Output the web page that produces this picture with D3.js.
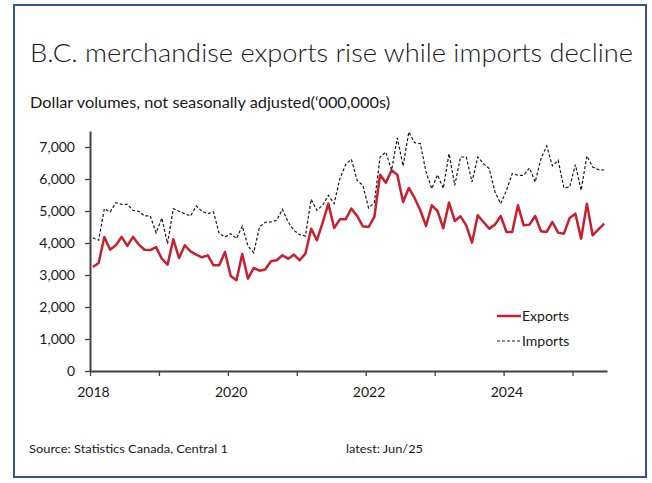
<!DOCTYPE html>
<html>
<head>
<meta charset="utf-8">
<script src="https://cdn.jsdelivr.net/npm/d3@7"></script>
<style>
    body { margin: 0; background: #fff; }
    text { font-family: Lato, "Open Sans", sans-serif; fill: #1a1a1a; }
</style>
</head>
<body>
<div id="chart"></div>
<script>

// monthly values, Jan 2018 - Jun 2025 ($ millions)
const exportsData = [
    3250, 3375, 4190, 3790, 3930, 4190, 3910, 4190, 3950, 3790, 3780, 3870,
    3510, 3320, 4115, 3532, 3930, 3740, 3635, 3553, 3615, 3303, 3303, 3720,
    2970, 2835, 3657, 2887, 3220, 3136, 3170, 3428, 3460, 3615, 3510, 3636,
    3460, 3667, 4448, 4085, 4636, 5230, 4470, 4740, 4740, 5074, 4845, 4522,
    4500, 4813, 6136, 5886, 6272, 6136, 5283, 5720, 5407, 5022, 4532, 5178,
    5000, 4460, 5262, 4688, 4834, 4553, 4011, 4865, 4657, 4449, 4574, 4845,
    4345, 4345, 5178, 4553, 4574, 4845, 4366, 4345, 4657, 4324, 4292, 4782,
    4917, 4136, 5230, 4240, 4428, 4605
];

const importsData = [
    4160, 4085, 5074, 4970, 5260, 5210, 5210, 5020, 4990, 4845, 4845, 4315,
    4780, 3980, 5074, 4990, 4917, 4845, 5157, 4990, 4917, 4970, 4292, 4190,
    4292, 4137, 4532, 3906, 3698, 4500, 4647, 4657, 4710, 5053, 4657, 4397,
    4262, 4220, 5366, 5022, 5178, 5490, 5230, 6011, 6449, 6615, 5959, 5803,
    5095, 5262, 6688, 6844, 6272, 7282, 6407, 7470, 7136, 7105, 6220, 5699,
    6130, 5710, 6792, 5803, 6688, 6688, 5907, 6688, 6480, 6323, 5595, 5230,
    5647, 6168, 6116, 6116, 6345, 5907, 6636, 7032, 6407, 6584, 5720, 5750,
    6449, 5647, 6720, 6376, 6293, 6282
];

const startYear = 2018;
const yearLabels = [2018, 2020, 2022, 2024];
const yTicks = [0, 1000, 2000, 3000, 4000, 5000, 6000, 7000];

const width = 652;
const height = 483;
const margin = { top: 131, left: 90, right: 45, bottom: 112 };

const svg = d3.select("#chart")
    .append("svg")
    .attr("width", width)
    .attr("height", height);

// frame
svg.append("rect")
    .attr("x", 14)
    .attr("y", 5)
    .attr("width", 632)
    .attr("height", 472)
    .attr("fill", "#fff")
    .attr("stroke", "#2F5597")
    .attr("stroke-width", 2);

/*
SCALES
*/
const n = exportsData.length;

const xScale = d3.scaleLinear()
    .domain([-0.5, n - 0.5])
    .range([margin.left, width - margin.right]);

const yScale = d3.scaleLinear()
    .domain([0, 7500])
    .range([height - margin.bottom, margin.top]);

/*
AXES
*/
// year boundaries (tick marks only)
const yearStarts = d3.range(0, n, 12).map(i => i - 0.5);

const xAxis = svg.append("g")
    .attr("class", "axis")
    .attr("transform", `translate(0,${height - margin.bottom})`)
    .call(d3.axisBottom(xScale)
        .tickValues(yearStarts)
        .tickFormat("")
        .tickSizeInner(5)
        .tickSizeOuter(0));

// labels centred on January of even years
const xLabels = svg.append("g")
    .attr("class", "axis labels")
    .attr("transform", `translate(0,${height - margin.bottom})`)
    .call(d3.axisBottom(xScale)
        .tickValues(yearLabels.map(y => (y - startYear) * 12))
        .tickFormat(i => startYear + i / 12)
        .tickSize(0)
        .tickPadding(16));
xLabels.select(".domain").remove();

const yAxis = svg.append("g")
    .attr("class", "axis")
    .attr("transform", `translate(${margin.left},0)`)
    .call(d3.axisLeft(yScale)
        .tickValues(yTicks)
        .tickFormat(d3.format(","))
        .tickSizeInner(5)
        .tickSizeOuter(0)
        .tickPadding(10));

svg.selectAll(".axis .domain, .axis line")
    .attr("stroke", "#404040");
svg.selectAll(".axis .domain").attr("stroke-width", 2);
svg.selectAll(".axis line").attr("stroke-width", 1.3);
svg.selectAll(".axis text")
    .style("font-size", "14px")
    .attr("fill", "#1a1a1a");

/*
LINES
*/
const line = d3.line()
    .x((d, i) => xScale(i))
    .y(d => yScale(d));

svg.append("path")
    .datum(importsData)
    .attr("d", line)
    .attr("fill", "none")
    .attr("stroke", "#1a1a1a")
    .attr("stroke-width", 1.2)
    .attr("stroke-dasharray", "3,2");

svg.append("path")
    .datum(exportsData)
    .attr("d", line)
    .attr("fill", "none")
    .attr("stroke", "#C8202F")
    .attr("stroke-width", 2.5)
    .attr("stroke-linejoin", "round");

/*
LEGEND
*/
const legend = svg.append("g").attr("transform", "translate(497,316)");
legend.append("line")
    .attr("x1", 0).attr("x2", 24).attr("y1", 0).attr("y2", 0)
    .attr("stroke", "#C8202F").attr("stroke-width", 2.5);
legend.append("text")
    .attr("x", 25).attr("y", 5)
    .style("font-size", "14px")
    .text("Exports");
legend.append("line")
    .attr("x1", 0).attr("x2", 24).attr("y1", 25).attr("y2", 25)
    .attr("stroke", "#1a1a1a").attr("stroke-width", 1.2)
    .attr("stroke-dasharray", "3,2");
legend.append("text")
    .attr("x", 25).attr("y", 30)
    .style("font-size", "14px")
    .text("Imports");

/*
TITLES + NOTES
*/
svg.append("text")
    .attr("x", 30)
    .attr("y", 62)
    .style("font-size", "26px")
    .style("font-weight", 300)
    .attr("textLength", 603)
    .attr("lengthAdjust", "spacingAndGlyphs")
    .text("B.C. merchandise exports rise while imports decline");

svg.append("text")
    .attr("x", 30)
    .attr("y", 108)
    .style("font-size", "15px")
    .attr("textLength", 360)
    .attr("lengthAdjust", "spacingAndGlyphs")
    .text("Dollar volumes, not seasonally adjusted(\u2018000,000s)");

svg.append("text")
    .attr("x", 29)
    .attr("y", 453)
    .style("font-size", "11px")
    .attr("textLength", 199)
    .attr("lengthAdjust", "spacingAndGlyphs")
    .text("Source: Statistics Canada, Central 1");

svg.append("text")
    .attr("x", 346)
    .attr("y", 453)
    .style("font-size", "11px")
    .attr("textLength", 77)
    .attr("lengthAdjust", "spacingAndGlyphs")
    .text("latest: Jun/25");

</script>
</body>
</html>
